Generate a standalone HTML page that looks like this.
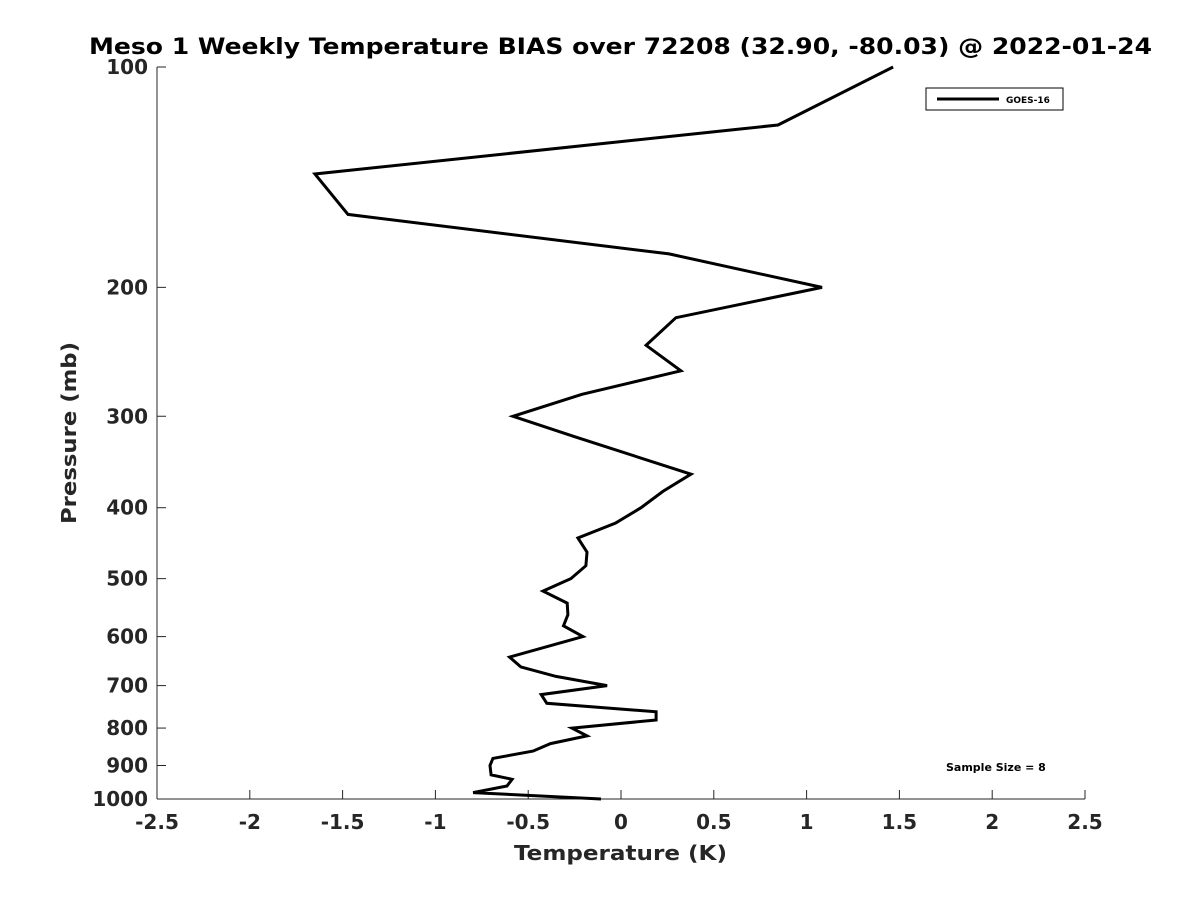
<!DOCTYPE html>
<html><head><meta charset="utf-8"><style>
body{margin:0;background:#fff;}
svg{display:block;font-family:"DejaVu Sans","Liberation Sans",sans-serif;}
</style></head><body>
<svg id="chart" width="1200" height="900" viewBox="0 0 1200 900" xmlns="http://www.w3.org/2000/svg">
<rect width="1200" height="900" fill="#fff"/>
<text x="89" y="54" textLength="1063" lengthAdjust="spacingAndGlyphs" font-size="22" font-weight="bold" fill="#000">Meso 1 Weekly Temperature BIAS over 72208 (32.90, -80.03) @ 2022-01-24</text>
<g id="axes"></g>
<text x="514" y="860" textLength="213" lengthAdjust="spacingAndGlyphs" font-size="20" font-weight="bold" fill="#262626">Temperature (K)</text>
<text transform="translate(76,524) rotate(-90)" textLength="182" lengthAdjust="spacingAndGlyphs" font-size="20" font-weight="bold" fill="#262626">Pressure (mb)</text>
<g>
<rect x="926" y="88" width="137" height="22" fill="#fff" stroke="#000" stroke-width="1"/>
<line x1="937" y1="99" x2="999" y2="99" stroke="#000" stroke-width="3"/>
<text x="1006" y="103" font-size="9" font-weight="bold">GOES-16</text>
</g>
<text x="946" y="771" font-size="11" font-weight="bold">Sample Size = 8</text>
</svg>
<script>
const pressures=[100,120,140,159,180,200,220,240,260,280,300,320,360,380,400,420,440,460,480,500,520,540,560,580,600,640,660,680,700,720,740,760,780,800,820,840,860,880,900,927,940,960,980,1000];
const biasValues=[1.466,0.846,-1.649,-1.471,0.259,1.083,0.296,0.135,0.323,-0.21,-0.582,-0.248,0.377,0.226,0.108,-0.03,-0.232,-0.183,-0.189,-0.27,-0.42,-0.29,-0.286,-0.31,-0.205,-0.6,-0.54,-0.35,-0.075,-0.43,-0.40,0.189,0.189,-0.264,-0.183,-0.38,-0.474,-0.69,-0.706,-0.70,-0.587,-0.614,-0.797,-0.108];
const xTicks=[-2.5,-2,-1.5,-1,-0.5,0,0.5,1,1.5,2,2.5];
const xTickLabels=["-2.5","-2","-1.5","-1","-0.5","0","0.5","1","1.5","2","2.5"];
const yTicks=[100,200,300,400,500,600,700,800,900,1000];
const yTickLabels=["100","200","300","400","500","600","700","800","900","1000"];
const L=157,R=1085,T=67,B=799;
const xs=v=>L+(v+2.5)/5*(R-L);
const ys=p=>T+Math.log10(p/100)*(B-T);
const NS="http://www.w3.org/2000/svg";
const svg=document.getElementById('chart');
const ax=document.getElementById('axes');
function mk(t,a,parent){const e=document.createElementNS(NS,t);for(const k in a)e.setAttribute(k,a[k]);(parent||ax).appendChild(e);return e;}
const xl=mk('line',{x1:L,y1:B,x2:R,y2:B,stroke:'#262626','stroke-width':1});


const yl=mk('line',{x1:L,y1:T,x2:L,y2:B,stroke:'#262626','stroke-width':1});


xTicks.forEach((v,i)=>{
  mk('line',{x1:xs(v),y1:B,x2:xs(v),y2:B-9,stroke:'#262626'});
  const t=mk('text',{x:xs(v),y:B+30,'text-anchor':'middle','font-size':20,'font-weight':'bold',fill:'#262626'});
  t.textContent=xTickLabels[i];
  
  
});
yTicks.forEach((p,i)=>{
  mk('line',{x1:L,y1:ys(p),x2:L+9,y2:ys(p),stroke:'#262626'});
  const t=mk('text',{x:L-9,y:ys(p)+7,'text-anchor':'end','font-size':20,'font-weight':'bold',fill:'#262626'});
  t.textContent=yTickLabels[i];
  
  
});
const pts=pressures.map((p,i)=>xs(biasValues[i]).toFixed(1)+','+ys(p).toFixed(1)).join(' ');
const line=mk('polyline',{points:pts,fill:'none',stroke:'#000','stroke-width':3,'stroke-linejoin':'miter'},svg);


</script>
</body></html>
